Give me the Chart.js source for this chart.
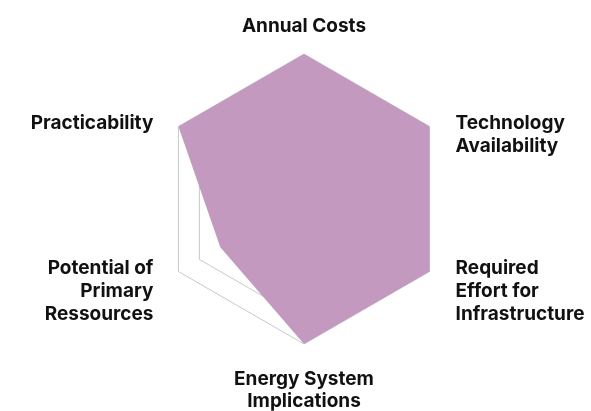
<!DOCTYPE html>
<html>
<head>
<meta charset="utf-8">
<script src="https://cdn.jsdelivr.net/npm/chart.js@4"></script>
<style>
  html, body { margin: 0; padding: 0; background: #fff; }
  #radar { display: block; }
</style>
</head>
<body>
<canvas id="radar" width="591" height="411"></canvas>
<script>
const labels = [
    ["Annual Costs"],
    ["Technology", "Availability"],
    ["Required", "Effort for", "Infrastructure"],
    ["Energy System", "Implications"],
    ["Potential of", "Primary", "Ressources"],
    ["Practicability"]
];
const scores = [6, 6, 6, 6, 4, 6];
const scaleMax = 6;
const scaleStep = 5;

// axis names drawn next to the outer ring, placed from the scale's own point positions
const axisNames = {
    id: "axisNames",
    afterDraw(chart) {
        const r = chart.scales.r;
        const c = chart.ctx;
        c.save();
        c.font = "bold 19px Inter";
        c.fillStyle = "#111";
        c.textBaseline = "alphabetic";
        labels.forEach((lines, i) => {
            const p = r.getPointPosition(i, r.drawingArea);
            const dx = p.x - r.xCenter;
            const dy = p.y - r.yCenter;
            let x = p.x, y, gap;
            if (Math.abs(dx) < 1) {
                c.textAlign = "center";
                gap = 22;
                y = dy < 0 ? p.y - 22 - (lines.length - 1) * gap : p.y + 41;
            } else {
                c.textAlign = dx > 0 ? "left" : "right";
                gap = 23;
                x = p.x + (dx > 0 ? 26 : -25);
                y = p.y + 2;
            }
            lines.forEach((t, k) => c.fillText(t, x, y + k * gap));
        });
        c.restore();
    }
};

const ctx = document.getElementById("radar").getContext("2d");
new Chart(ctx, {
    type: "radar",
    data: {
        labels: labels,
        datasets: [{
            data: scores,
            backgroundColor: "#c499c0",
            borderWidth: 0,
            pointRadius: 0,
            fill: true
        }]
    },
    options: {
        responsive: false,
        animation: false,
        layout: { padding: { top: 54, bottom: 67, left: 100, right: 83 } },
        plugins: {
            legend: { display: false },
            tooltip: { enabled: false }
        },
        scales: {
            r: {
                min: 0,
                max: scaleMax,
                ticks: { stepSize: scaleStep, display: false },
                angleLines: { display: false },
                grid: { color: "#c8c8c8", lineWidth: 1 },
                pointLabels: { display: false }
            }
        }
    },
    plugins: [axisNames]
});
</script>
</body>
</html>
